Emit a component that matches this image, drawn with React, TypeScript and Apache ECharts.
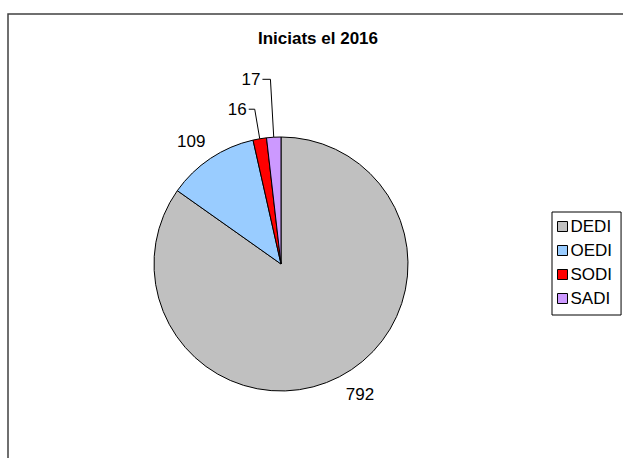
import React, { useEffect, useRef } from "react";
import * as echarts from "echarts";

const categories = ["DEDI", "OEDI", "SODI", "SADI"];
const values = [792, 109, 16, 17];
const colors = ["#c0c0c0", "#99ccff", "#ff0000", "#cc99ff"];
const titleText = "Iniciats el 2016";

export default function App() {
  const ref = useRef<HTMLDivElement>(null);
  useEffect(() => {
    document.body.style.margin = "0";
    const chart = echarts.init(ref.current!, null, { renderer: "svg" });
    const lineCfg = [
      { show: false, length: 20.5, length2: 0 },
      { show: false, length: 20, length2: 0 },
      { show: true, length: 30, length2: 6 },
      { show: true, length: 58, length2: 8 },
    ];
    const shifts = [
      { dx: -5, dy: 0 },
      { dx: 8, dy: 0 },
      { dx: 0, dy: 0 },
      { dx: 0, dy: 0 },
    ];
    const font = "Liberation Sans, Arial, sans-serif";
    chart.setOption({
      animation: false,
      backgroundColor: "#ffffff",
      title: {
        text: titleText,
        left: 318,
        top: 30,
        textAlign: "center",
        padding: 0,
        textStyle: { fontFamily: font, fontSize: 17, fontWeight: "bold", color: "#000" },
      },
      legend: {
        orient: "vertical",
        left: 552,
        top: 212,
        data: categories,
        icon: "rect",
        itemWidth: 10,
        itemHeight: 10,
        itemGap: 7,
        padding: [6, 9, 8, 5],
        borderColor: "#000",
        borderWidth: 1,
        textStyle: { fontFamily: font, fontSize: 17, color: "#000", padding: [0, 0, 0, -2] },
        itemStyle: { borderColor: "#000", borderWidth: 1 },
      },
      graphic: [
        {
          type: "rect",
          shape: { x: 8, y: 14, width: 800, height: 600 },
          style: { fill: "none", stroke: "#404040", lineWidth: 1.5 },
          silent: true,
        },
      ],
      series: [
        {
          type: "pie",
          center: [281, 264],
          radius: 127,
          startAngle: 90,
          clockwise: true,
          avoidLabelOverlap: false,
          itemStyle: { borderColor: "#000", borderWidth: 1 },
          emphasis: { disabled: true },
          label: {
            show: true,
            position: "outside",
            formatter: "{c}",
            fontFamily: font,
            fontSize: 17,
            color: "#000",
            distanceToLabelLine: 2,
          },
          labelLine: { lineStyle: { color: "#000", width: 1 }, smooth: false },
          labelLayout: (p: any) => shifts[p.dataIndex],
          data: categories.map((name, i) => ({
            name,
            value: values[i],
            itemStyle: { color: colors[i] },
            labelLine: lineCfg[i],
          })),
        },
      ],
    });
    return () => chart.dispose();
  }, []);
  return <div ref={ref} style={{ width: 623, height: 458 }} />;
}
